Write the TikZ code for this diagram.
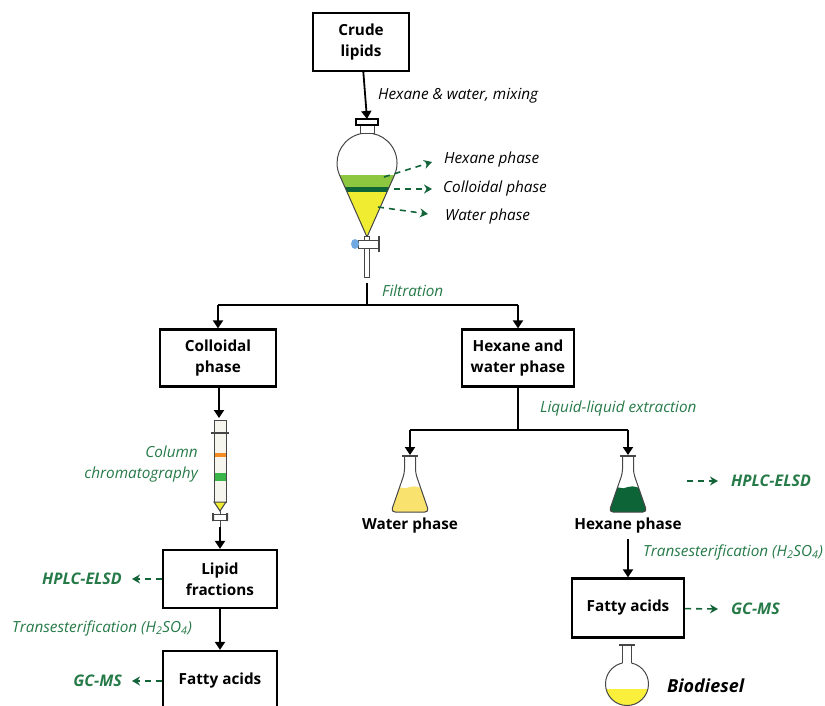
\documentclass[tikz,border=0pt]{standalone}
\usepackage{fontspec}
\setmainfont{Open Sans}
\usetikzlibrary{arrows.meta}

\definecolor{labelgreen}{RGB}{38,122,72}
\definecolor{probegreen}{RGB}{20,100,58}
\definecolor{hexgreen}{RGB}{12,100,55}
\definecolor{bandgreen}{RGB}{141,198,63}
\definecolor{funyellow}{RGB}{240,236,50}
\definecolor{flaskyellow}{RGB}{250,226,110}
\definecolor{dieselyellow}{RGB}{250,240,60}
\definecolor{bandorange}{RGB}{242,140,35}
\definecolor{colgreen}{RGB}{57,181,74}
\definecolor{tapblue}{RGB}{110,170,225}
\definecolor{glassgray}{RGB}{70,70,70}
\definecolor{colglass}{RGB}{246,246,238}

\begin{document}
\fontsize{15.3}{21}\selectfont
\begin{tikzpicture}[x=1pt, y=-1pt,
  box/.style={draw, line width=2.2pt, font=\bfseries, align=center, inner sep=0pt},
  flow/.style={line width=1.8pt, -{Triangle[length=8pt,width=10pt]}},
  link/.style={line width=1.8pt},
  probe/.style={probegreen, line width=1.6pt, dash pattern=on 6pt off 5pt, -{Stealth[length=8pt,width=9pt]}},
  note/.style={font=\itshape, inner sep=0pt},
  gnote/.style={note, text=labelgreen},
  tool/.style={font=\fontsize{16}{20}\selectfont\bfseries\itshape, text=labelgreen, inner sep=0pt},
  glass/.style={draw=glassgray, line width=1pt}]
\useasboundingbox (0,0) rectangle (825,706);

% boxes
\node[box, minimum width=96pt, minimum height=58pt] (crude) at (361,42) {Crude\\lipids};
\node[box, minimum width=116pt, minimum height=57pt] (colloid) at (218,358) {Colloidal\\phase};
\node[box, minimum width=112pt, minimum height=57pt] (hexwater) at (518,358) {Hexane and\\water phase};
\node[box, minimum width=114pt, minimum height=58pt] (lipid) at (220,579) {Lipid\\fractions};
\node[box, minimum width=114pt, minimum height=60pt] (fattyL) at (220,681) {Fatty acids};
\node[box, minimum width=112pt, minimum height=59pt] (fattyR) at (628,608) {Fatty acids};

% separatory funnel
\coordinate (funtop) at (367,119);
\coordinate (funout) at (367,283);
\draw[flow] (crude) -- (funtop);
\node[note, anchor=west] (mixlab) at (378,96) {Hexane \& water, mixing};
\begin{scope}
\clip (367,237) -- (339.6,175.2) arc[start angle=156.1, end angle=383.9, radius=30] -- cycle;
\fill[bandgreen] (330,175) rectangle (400,187);
\fill[hexgreen] (330,187) rectangle (400,192);
\fill[funyellow] (330,192) rectangle (400,240);
\end{scope}
\draw[glass] (367,237) -- (339.6,175.2) arc[start angle=156.1, end angle=383.9, radius=30] -- cycle;
\draw[glass, fill=white] (360,125) rectangle (374,134);
\draw[line width=1.4pt, fill=white] (356,119) rectangle (378,125);
\draw[glass, fill=white] (364.5,236) rectangle (369.5,277);
\draw[glass, fill=white] (358,240) rectangle (379,248);
\draw[glass, line width=1.4pt] (379,236) -- (379,252);
\fill[tapblue] (355,244) ellipse[x radius=4, y radius=5];

\node[note, anchor=west] (hexph) at (444,160) {Hexane phase};
\node[note, anchor=west] (colph) at (443,189) {Colloidal phase};
\node[note, anchor=west] (watph) at (445,217) {Water phase};
\coordinate (inhex) at (384,177);
\coordinate (incol) at (394,189);
\coordinate (inwat) at (378,207);
\draw[probe] (inhex) -- ([shift={(-12,2)}]hexph.west);
\draw[probe] (incol) -- ([shift={(-11,0)}]colph.west);
\draw[probe] (inwat) -- ([shift={(-17,-3)}]watph.west);

% filtration split
\coordinate (split1) at (367,305);
\draw[link] (funout) -- (split1);
\draw[link] (colloid.north |- split1) -- (hexwater.north |- split1);
\draw[flow] (colloid.north |- split1) -- (colloid.north);
\draw[flow] (hexwater.north |- split1) -- (hexwater.north);
\node[gnote, anchor=west] (filt) at (382,291) {Filtration};

% chromatography column
\coordinate (coltop) at (219,418);
\coordinate (colbot) at (220,527);
\draw[flow] (colloid.south -| coltop) -- (coltop);
\draw[glass, fill=colglass] (214,420) rectangle (226,502);
\draw[glass, line width=1.6pt] (211,433) -- (229,433);
\fill[bandorange] (214.5,453) rectangle (225.5,457);
\fill[colgreen] (214.5,473) rectangle (225.5,481);
\draw[glass, fill=funyellow] (214,502) -- (226,502) -- (220,511) -- cycle;
\draw[glass] (220,511) -- (220,527);
\draw[glass, fill=white] (213,514) rectangle (227,520);
\fill[glassgray] (212,513) rectangle (214,521) (226,513) rectangle (228,521);
\draw[flow] (colbot) -- (lipid);
\node[gnote, align=right, anchor=east] (colchrom) at (198,464) {Column\\chromatography};

% left branch analyses
\node[tool, anchor=east] (hplcL) at (122,579) {HPLC-ELSD};
\draw[probe] (lipid) -- ([xshift=10]hplcL.east);
\draw[flow] (lipid) -- (fattyL);
\node[gnote, anchor=west] (transL) at (12,628) {Transesterification (H\textsubscript{2}SO\textsubscript{4})};
\node[tool, anchor=east] (gcmsL) at (122,681) {GC-MS};
\draw[probe] (fattyL) -- ([xshift=10]gcmsL.east);

% liquid-liquid extraction
\coordinate (split2) at (518,430);
\coordinate (waterfl) at (410,455);
\coordinate (hexfl) at (628,455);
\draw[link] (hexwater) -- (split2);
\draw[link] (waterfl |- split2) -- (hexfl |- split2);
\draw[flow] (waterfl |- split2) -- (waterfl);
\draw[flow] (hexfl |- split2) -- (hexfl);
\node[gnote, anchor=west] (lle) at (540,409) {Liquid-liquid extraction};

\foreach \cx/\liq in {410/flaskyellow, 628/hexgreen}{
  \begin{scope}
  \clip[rounded corners=4pt] (\cx-5.5,457) -- (\cx-5.5,473) -- (\cx-19,512) -- (\cx+19,512) -- (\cx+5.5,473) -- (\cx+5.5,457) -- cycle;
  \fill[\liq] (\cx-22,488) .. controls (\cx-12,484) and (\cx-6,491) .. (\cx,487) .. controls (\cx+6,484) and (\cx+12,491) .. (\cx+22,487) -- (\cx+22,515) -- (\cx-22,515) -- cycle;
  \end{scope}
  \draw[glass, rounded corners=4pt] (\cx-5.5,457) -- (\cx-5.5,473) -- (\cx-19,512) -- (\cx+19,512) -- (\cx+5.5,473) -- (\cx+5.5,457);
  \draw[glass, line width=1.4pt] (\cx-8,456) -- (\cx+8,456);
}
\node[font=\bfseries] (waterlab) at (410,526) {Water phase};
\node[font=\bfseries] (hexlab) at (628,526) {Hexane phase};

% right branch analyses
\node[tool, anchor=west] (hplcR) at (731,481) {HPLC-ELSD};
\coordinate (hplcsrc) at (687,481);
\draw[probe] (hplcsrc) -- ([xshift=-13]hplcR.west);
\draw[flow] (hexlab) -- (fattyR);
\node[gnote, anchor=west] (transR) at (643,552) {Transesterification (H\textsubscript{2}SO\textsubscript{4})};
\node[tool, anchor=west] (gcmsR) at (731,609) {GC-MS};
\draw[probe] (fattyR) -- ([xshift=-13]gcmsR.west);

% round-bottom flask
\begin{scope}
\clip (627,684) circle[radius=21.5];
\fill[dieselyellow] (600,689) rectangle (655,710);
\end{scope}
\draw[glass] (622.5,645) -- (622.5,663) (631.5,645) -- (631.5,663);
\draw[glass] (631.5,663) arc[start angle=282.1, end angle=617.9, radius=21.5];
\draw[glass, line width=1.4pt] (619,645) -- (635,645);
\node[font=\fontsize{18}{22}\selectfont\bfseries\itshape, anchor=west, inner sep=0pt] (diesel) at (667,686) {Biodiesel};
\end{tikzpicture}
\end{document}
